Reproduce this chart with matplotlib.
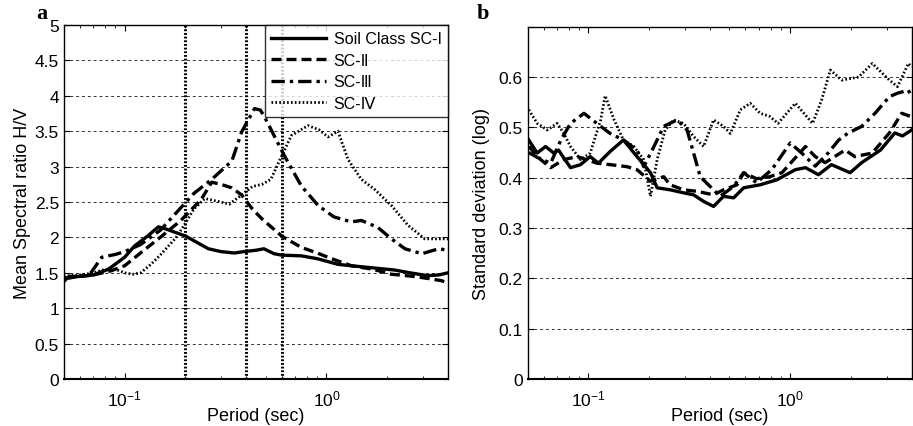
import numpy as np
import matplotlib.pyplot as plt
from matplotlib.ticker import FormatStrFormatter, FixedLocator

plt.rcParams['font.family'] = ['Liberation Sans', 'DejaVu Sans']
plt.rcParams['mathtext.default'] = 'regular'

# Panel a: mean spectral ratio H/V
t1_a = [0.05, 0.053, 0.06, 0.07, 0.083, 0.1, 0.112, 0.13, 0.147, 0.16, 0.2, 0.26, 0.3, 0.35, 0.39,
        0.45, 0.49, 0.55, 0.6, 0.75, 0.9, 1.14, 1.33, 1.7, 2.17, 2.6, 3.17, 3.6, 4.0]
sc1_a = [1.38, 1.45, 1.45, 1.47, 1.55, 1.72, 1.88, 2.02, 2.15, 2.12, 2.02, 1.84, 1.8, 1.78, 1.8,
         1.82, 1.84, 1.77, 1.75, 1.74, 1.7, 1.62, 1.6, 1.57, 1.54, 1.5, 1.46, 1.47, 1.5]

t2_a = [0.05, 0.06, 0.07, 0.086, 0.1, 0.121, 0.153, 0.19, 0.24, 0.27, 0.3, 0.34, 0.38, 0.43,
        0.48, 0.6, 0.75, 0.9, 1.06, 1.33, 1.7, 2.1, 2.7, 3.2, 3.7, 4.0]
sc2_a = [1.42, 1.45, 1.47, 1.53, 1.6, 1.79, 2.02, 2.24, 2.54, 2.78, 2.75, 2.7, 2.6, 2.4,
         2.26, 2.02, 1.86, 1.78, 1.7, 1.6, 1.55, 1.48, 1.45, 1.42, 1.39, 1.36]

t3_a = [0.05, 0.06, 0.068, 0.077, 0.09, 0.1, 0.12, 0.15, 0.19, 0.22, 0.27, 0.34, 0.38, 0.44,
        0.47, 0.49, 0.55, 0.62, 0.75, 0.91, 1.09, 1.33, 1.49, 1.8, 2.1, 2.45, 2.97, 3.6, 4.0]
sc3_a = [1.42, 1.45, 1.5, 1.72, 1.76, 1.8, 1.9, 2.1, 2.42, 2.62, 2.82, 3.08, 3.49, 3.82,
         3.8, 3.72, 3.44, 3.15, 2.73, 2.45, 2.29, 2.22, 2.24, 2.14, 1.98, 1.84, 1.77, 1.84, 1.82]

t4_a = [0.05, 0.06, 0.07, 0.08, 0.09, 0.1, 0.11, 0.12, 0.135, 0.15, 0.18, 0.2, 0.22, 0.25, 0.3,
        0.33, 0.38, 0.43, 0.48, 0.53, 0.6, 0.67, 0.81, 0.92, 1.02, 1.14, 1.28, 1.49, 1.73,
        2.1, 2.54, 3.07, 3.5, 4.0]
sc4_a = [1.45, 1.47, 1.5, 1.55, 1.55, 1.5, 1.48, 1.5, 1.62, 1.75, 2.0, 2.2, 2.4, 2.55, 2.5,
         2.47, 2.6, 2.72, 2.75, 2.82, 3.15, 3.44, 3.58, 3.52, 3.42, 3.5, 3.1, 2.82, 2.68,
         2.45, 2.17, 1.98, 1.98, 1.98]

# Panel b: standard deviation (log)
t1_b = [0.0506, 0.0557, 0.0613, 0.0673, 0.071, 0.0815, 0.0913, 0.102, 0.112, 0.128, 0.149,
        0.174, 0.203, 0.219, 0.254, 0.296, 0.332, 0.372, 0.417, 0.467, 0.524, 0.588, 0.71,
        0.86, 1.06, 1.19, 1.38, 1.6, 1.98, 2.26, 2.8, 3.3, 3.6, 4.0]
sc1_b = [0.475, 0.449, 0.462, 0.449, 0.455, 0.42, 0.426, 0.442, 0.429, 0.452, 0.475,
         0.442, 0.41, 0.38, 0.376, 0.37, 0.366, 0.353, 0.343, 0.363, 0.36, 0.38, 0.386,
         0.396, 0.416, 0.42, 0.406, 0.426, 0.41, 0.43, 0.455, 0.489, 0.483, 0.495]

t2_b = [0.0506, 0.058, 0.065, 0.0755, 0.088, 0.11, 0.128, 0.155, 0.174, 0.203, 0.236, 0.254,
        0.296, 0.345, 0.417, 0.467, 0.545, 0.588, 0.68, 0.79, 0.91, 1.19, 1.33, 1.49, 1.87,
        2.09, 2.55, 3.1, 3.57, 4.0]
sc2_b = [0.462, 0.436, 0.42, 0.436, 0.442, 0.429, 0.426, 0.422, 0.416, 0.393, 0.402, 0.386,
         0.376, 0.373, 0.366, 0.376, 0.386, 0.41, 0.398, 0.402, 0.41, 0.462, 0.442, 0.43,
         0.455, 0.442, 0.449, 0.489, 0.528, 0.521]

t3_b = [0.0506, 0.056, 0.065, 0.073, 0.0815, 0.095, 0.11, 0.128, 0.149, 0.174, 0.188, 0.207,
        0.236, 0.275, 0.308, 0.332, 0.358, 0.4, 0.45, 0.524, 0.588, 0.68, 0.81, 1.0, 1.14,
        1.33, 1.54, 1.74, 1.94, 2.26, 2.63, 3.1, 3.4, 3.85, 4.0]
sc3_b = [0.45, 0.44, 0.429, 0.475, 0.508, 0.528, 0.508, 0.488, 0.475, 0.455, 0.422, 0.455,
         0.502, 0.515, 0.495, 0.449, 0.402, 0.383, 0.363, 0.383, 0.41, 0.39, 0.416, 0.469,
         0.449, 0.423, 0.449, 0.475, 0.489, 0.502, 0.528, 0.561, 0.568, 0.574, 0.56]

t4_b = [0.0506, 0.0557, 0.0625, 0.07, 0.0755, 0.0815, 0.0913, 0.102, 0.115, 0.121, 0.134,
        0.149, 0.168, 0.188, 0.203, 0.219, 0.24, 0.264, 0.296, 0.332, 0.372, 0.417, 0.467,
        0.505, 0.566, 0.633, 0.71, 0.79, 0.87, 1.06, 1.29, 1.43, 1.58, 1.8, 2.18, 2.55, 3.1,
        3.4, 3.85, 4.0]
sc4_b = [0.535, 0.508, 0.495, 0.508, 0.488, 0.462, 0.436, 0.449, 0.515, 0.563, 0.515,
         0.475, 0.462, 0.436, 0.363, 0.436, 0.495, 0.515, 0.508, 0.482, 0.462, 0.515, 0.502,
         0.488, 0.535, 0.548, 0.528, 0.522, 0.508, 0.548, 0.508, 0.554, 0.614, 0.594, 0.6,
         0.627, 0.594, 0.581, 0.627, 0.62]

legend_labels = ['Soil Class SC-I', 'SC-Ⅱ', 'SC-Ⅲ', 'SC-Ⅳ']
vlines_a = [0.2, 0.4, 0.6]

styles = [dict(ls='-', lw=2.4),
          dict(ls=(0, (3, 1.5)), lw=2.4),
          dict(ls=(0, (4, 1.5, 1, 1.5)), lw=2.4),
          dict(ls=(0, (0.6, 0.8)), lw=2.0)]


def style_axes(ax, ymax, yticks):
    ax.set_xscale('log')
    ax.set_xlim(0.05, 4)
    ax.set_ylim(0, ymax)
    ax.yaxis.set_major_locator(FixedLocator(yticks))
    ax.yaxis.set_major_formatter(FormatStrFormatter('%g'))
    ax.set_xticks([0.1, 1])
    ax.set_xticklabels(['$10^{-1}$', '$10^{0}$'])
    ax.tick_params(which='both', direction='in', top=True, right=True, labelsize=12.5)
    ax.tick_params(which='major', length=4)
    ax.tick_params(which='minor', length=2)
    ax.tick_params(axis='x', pad=7)
    for yv in yticks[1:-1] if yticks[-1] >= ymax else yticks[1:]:
        ax.axhline(yv, color='#333333', lw=0.7, ls=(0, (3, 3)), zorder=0)
    for s in ax.spines.values():
        s.set_linewidth(1.0)
    ax.spines['bottom'].set_linewidth(1.5)
    ax.set_xlabel('Period (sec)', fontsize=13, labelpad=-1)


fig = plt.figure(figsize=(9.13, 4.27), dpi=100)
ax1 = fig.add_axes([0.070, 0.110, 0.4206, 0.829])
ax2 = fig.add_axes([0.578, 0.110, 0.4206, 0.825])

for x in vlines_a:
    ax1.axvline(x, color='black', lw=2.2, ls=(0, (0.6, 0.6)), zorder=1)

data_a = [(t1_a, sc1_a), (t2_a, sc2_a), (t3_a, sc3_a), (t4_a, sc4_a)]
lines = []
for (t, v), st, lab in zip(data_a, styles, legend_labels):
    ln, = ax1.plot(t, v, color='black', label=lab, zorder=3, **st)
    lines.append(ln)

style_axes(ax1, 5, [0, 0.5, 1, 1.5, 2, 2.5, 3, 3.5, 4, 4.5, 5])
ax1.set_ylabel('Mean Spectral ratio H/V', fontsize=13, labelpad=3)
leg = ax1.legend(loc='upper right', borderaxespad=0, fontsize=11.5, frameon=True,
                 fancybox=False, edgecolor='black', handlelength=3.4, labelspacing=0.4,
                 handletextpad=0.5, borderpad=0.4)
leg.get_frame().set_linewidth(1.0)
leg.set_zorder(5)

data_b = [(t1_b, sc1_b), (t2_b, sc2_b), (t3_b, sc3_b), (t4_b, sc4_b)]
for (t, v), st in zip(data_b, styles):
    ax2.plot(t, v, color='black', zorder=3, **st)

style_axes(ax2, 0.7, [0, 0.1, 0.2, 0.3, 0.4, 0.5, 0.6])
ax2.set_ylabel('Standard deviation (log)', fontsize=13, labelpad=6)

fig.text(0.040, 0.955, 'a', fontsize=16, fontweight='bold', family='Liberation Serif')
fig.text(0.522, 0.955, 'b', fontsize=16, fontweight='bold', family='Liberation Serif')

fig.savefig('out.png', dpi=100)
